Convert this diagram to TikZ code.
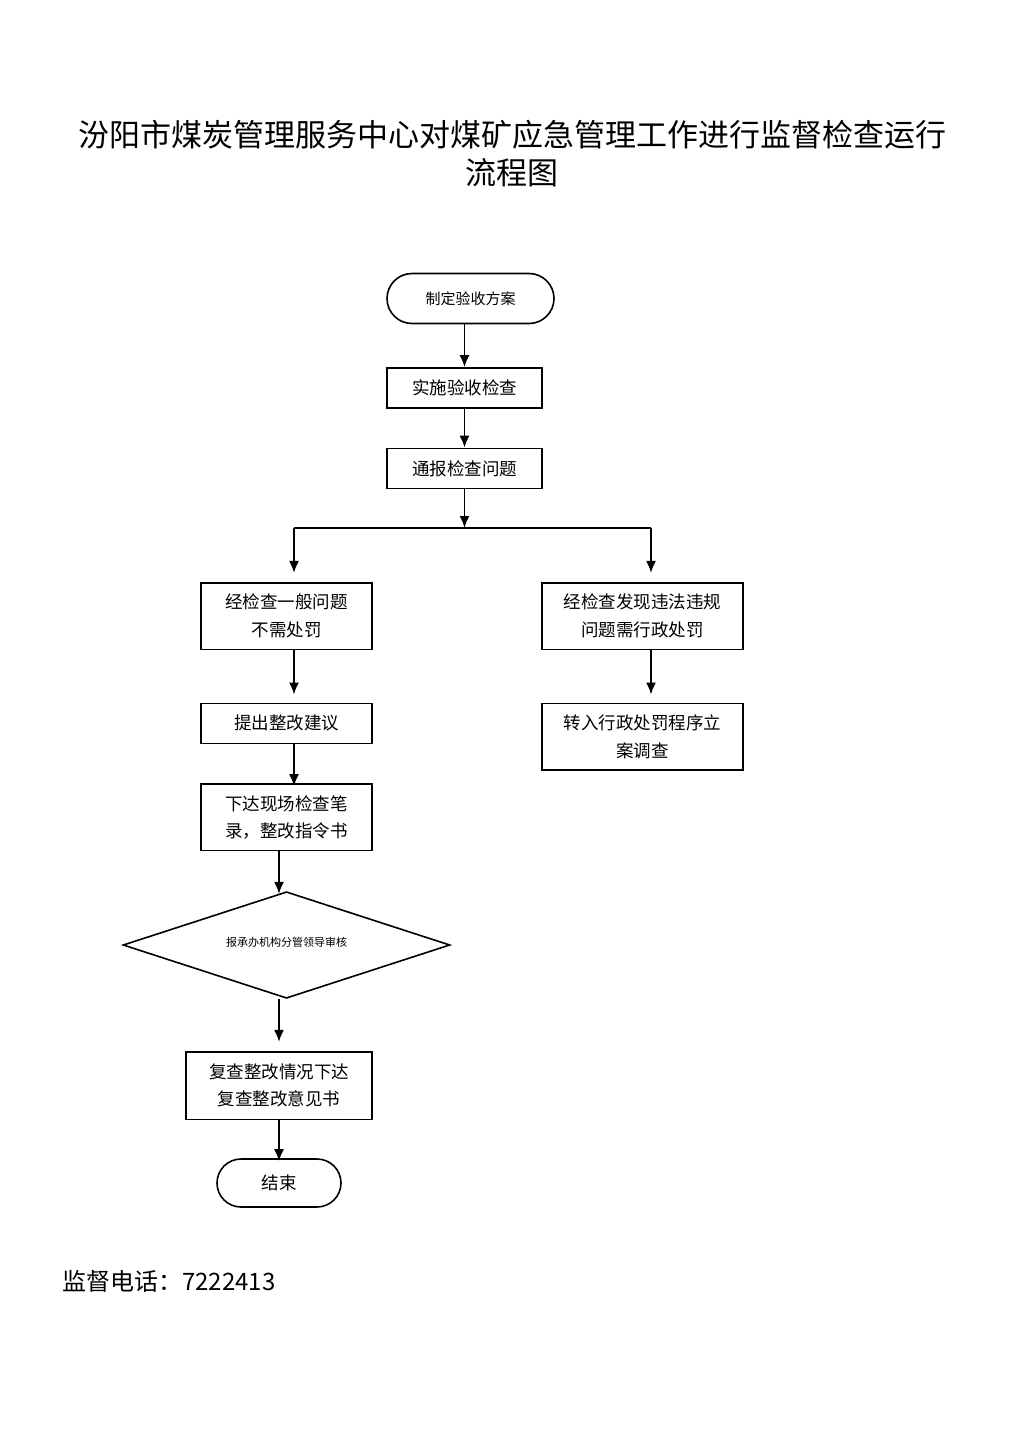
\documentclass[tikz,border=0pt]{standalone}
\usepackage{fontspec}
\setmainfont{Noto Sans CJK SC}
\usetikzlibrary{shapes.geometric, shapes.misc, arrows.meta}
\tikzset{%
  x=1pt, y=-1pt, % one unit is one pixel of the page
  every node/.style={inner sep=0pt},
  box/.style={draw, line width=1.6pt, rectangle, align=center,
    minimum height=40pt, font=\fontsize{17.5}{27.5}\selectfont},
  terminal/.style={draw, line width=1.6pt, rounded rectangle,
    font=\fontsize{17.5}{27.5}\selectfont},
  decision/.style={draw, line width=1.6pt, diamond, shape aspect=3.07,
    font=\fontsize{11}{13}\selectfont},
  link/.style={draw, line width=1.8pt},
  arr/.style={link, -{Latex[length=12pt, width=10pt]}}
}

\begin{document}
\begin{tikzpicture}
    \useasboundingbox (0,0) rectangle (1024,1448);

    \node[align=center, font=\fontsize{31}{38}\selectfont] (title) at (512,154)
      {汾阳市煤炭管理服务中心对煤矿应急管理工作进行监督检查运行\\流程图};

    \node[terminal, minimum width=167pt, minimum height=50pt,
      font=\fontsize{15}{18}\selectfont] (plan) at (470.5,298.5) {制定验收方案};
    \node[box, minimum width=155pt] (exec) at (464.5,388) {实施验收检查};
    \node[box, minimum width=155pt] (notify) at (464.5,468.5) {通报检查问题};

    \coordinate (split) at (464.5,528);
    \coordinate (splitL) at (294,528);
    \coordinate (splitR) at (651,528);

    \node[box, minimum width=171pt, minimum height=66.6pt] (gen) at (286.5,616) {经检查一般问题\\不需处罚};
    \node[box, minimum width=201pt, minimum height=66.6pt] (ill) at (642.5,616) {经检查发现违法违规\\问题需行政处罚};
    \node[box, minimum width=171pt] (advice) at (286.5,723.3) {提出整改建议};
    \node[box, minimum width=201pt, minimum height=66.7pt] (case) at (642.5,736.7) {转入行政处罚程序立\\案调查};
    \node[box, minimum width=171pt, minimum height=66.7pt] (record) at (286.5,817.3) {下达现场检查笔\\录，整改指令书};
    \node[decision, minimum width=327pt, minimum height=106.6pt] (check) at (286.5,945) {\raisebox{7pt}{报承办机构分管领导审核}};
    \node[box, minimum width=186pt, minimum height=67.6pt] (review) at (279,1085.5) {复查整改情况下达\\复查整改意见书};
    \node[terminal, minimum width=124pt, minimum height=48pt] (end) at (279,1183) {结束};

    \node[anchor=west, font=\fontsize{24}{28}\selectfont] (phone) at (62,1281) {监督电话：7222413};

    \draw[arr] (exec.north |- plan.south) -- (exec.north);
    \draw[arr] (exec) -- (notify);
    \draw[arr] (notify) -- (split);
    \draw[link] (splitL) -- (splitR);
    \draw[arr, shorten >=9pt] (splitL) -- (splitL |- gen.north);
    \draw[arr, shorten >=9pt] (splitR) -- (splitR |- ill.north);
    \draw[arr, shorten >=8pt] (splitL |- gen.south) -- (splitL |- advice.north);
    \draw[arr, shorten >=8pt] (splitR |- ill.south) -- (splitR |- case.north);
    \draw[arr, shorten >=-3pt] (splitL |- advice.south) -- (splitL |- record.north);
    \draw[arr, shorten >=-3pt] (review.north |- record.south) -- (review.north |- check.north);
    \draw[arr, shorten >=9pt] (review.north |- check.south) -- (review.north);
    \draw[arr, shorten >=-3pt] (review) -- (end);
\end{tikzpicture}
\end{document}
